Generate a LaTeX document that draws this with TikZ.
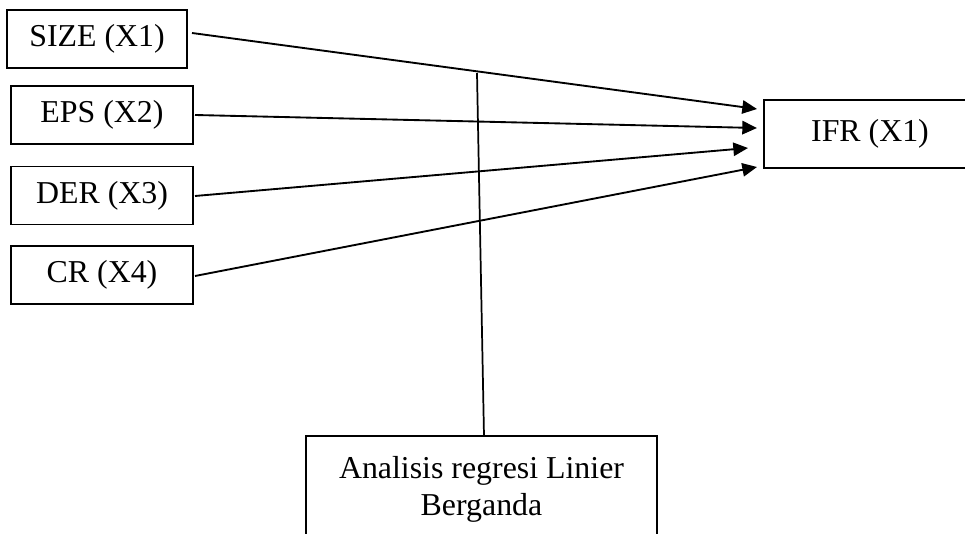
\documentclass[tikz,border=0pt]{standalone}
\usepackage{fontspec}
\setmainfont{Liberation Serif}
\usetikzlibrary{arrows.meta}
\newdimen\pxu \pxu=0.75pt
\begin{document}
\begin{tikzpicture}[x=0.75pt,y=-0.75pt,
  varbox/.style={draw,line width=0.8pt,inner sep=0pt,font=\fontsize{23.9}{27.8}\selectfont,align=center},
  link/.style={line width=1.4pt,-{Triangle[length=11pt,width=10pt]}},
  plain/.style={line width=1.3pt}]
\useasboundingbox (0,0) rectangle (965,534);
\clip (0,0) rectangle (965,534);
\node[varbox,minimum width=180\pxu,minimum height=58\pxu] (size) at (97,39) {SIZE (X1)};
\node[varbox,minimum width=182\pxu,minimum height=58\pxu] (eps) at (102,115) {EPS (X2)};
\node[varbox,minimum width=182\pxu,minimum height=58\pxu] (der) at (102,195.5) {DER (X3)};
\node[varbox,minimum width=182\pxu,minimum height=58\pxu] (cr) at (102,275) {CR (X4)};
\node[varbox,minimum width=212\pxu,minimum height=68\pxu] (ifr) at (870,134) {IFR (X1)};
\node[varbox,minimum width=351\pxu,minimum height=107\pxu] (ana) at (481.5,489.5) {Analisis regresi Linier\\Berganda};
\coordinate (s1) at (192,33);
\coordinate (s2) at (195,115);
\coordinate (s3) at (195,196);
\coordinate (s4) at (195,276);
\coordinate (t1) at (757,109);
\coordinate (t2) at (757,128);
\coordinate (t3) at (748,148);
\coordinate (t4) at (757,167);
\coordinate (vtop) at (477,73);
\coordinate (vbot) at (484,436);
\draw[link] (s1) -- (t1);
\draw[link] (s2) -- (t2);
\draw[link] (s3) -- (t3);
\draw[link] (s4) -- (t4);
\draw[plain] (vtop) -- (vbot);
\end{tikzpicture}
\end{document}
